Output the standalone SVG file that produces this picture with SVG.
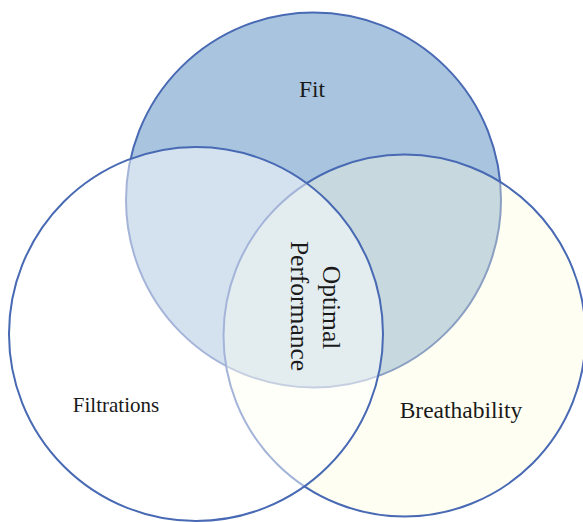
<svg xmlns="http://www.w3.org/2000/svg" width="583" height="522" viewBox="0 0 583 522">
  <style>
    .ring { stroke: #4869b3; stroke-width: 2; }
    .lbl { font-family: "Liberation Serif", "Times New Roman", serif; fill: #1a1a1a; }
  </style>
  <rect width="583" height="522" fill="#ffffff"/>
  <g id="fit">
    <circle class="ring" cx="313.5" cy="200" r="187.5" fill="#a8c4df"/>
    <text class="lbl" x="312" y="97" font-size="23.5" text-anchor="middle">Fit</text>
  </g>
  <g id="breathability">
    <circle class="ring" cx="404.5" cy="335.5" r="181" fill="#fcfcdc" fill-opacity="0.37"/>
    <text class="lbl" x="461" y="418" font-size="23.5" text-anchor="middle">Breathability</text>
  </g>
  <g id="filtrations">
    <circle class="ring" cx="196" cy="334" r="187" fill="#ffffff" fill-opacity="0.5"/>
    <text class="lbl" x="116" y="411.5" font-size="21" text-anchor="middle">Filtrations</text>
  </g>
  <g id="optimal-performance">
    <g transform="translate(323.3,307) rotate(90)">
      <text class="lbl" x="0.5" y="0" font-size="25.5" text-anchor="middle">Optimal</text>
      <text class="lbl" x="-1" y="32.6" font-size="25.5" text-anchor="middle">Performance</text>
    </g>
  </g>
  <g id="connectors"/>
</svg>
